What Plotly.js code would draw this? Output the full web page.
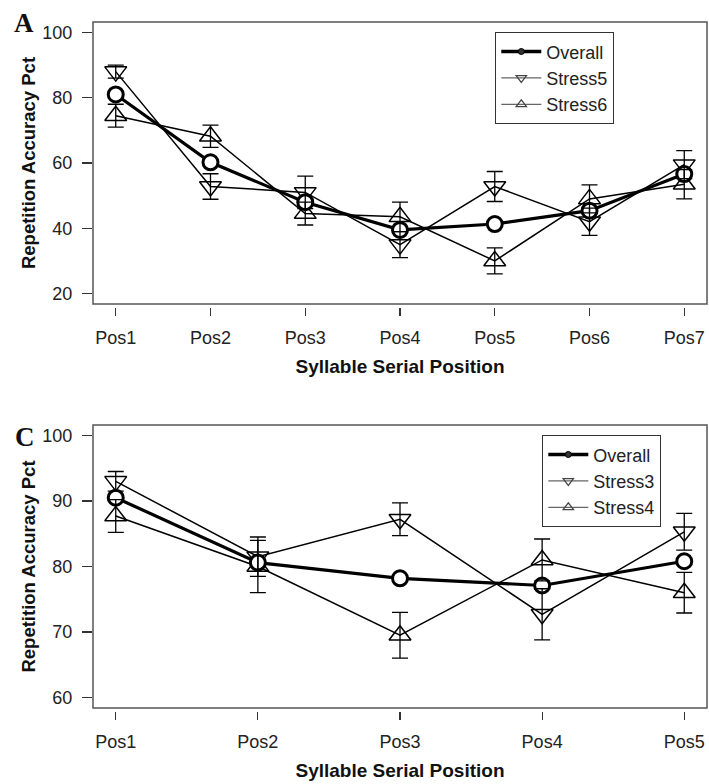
<!DOCTYPE html>
<html><head><meta charset="utf-8">
<script src="https://cdn.plot.ly/plotly-3.0.1.min.js"></script>
<style>html,body{margin:0;padding:0;background:#fff}</style>
</head><body><div id="chart" style="width:709px;height:784px"></div>
<script>
// ---- Panel A data ----
const positionsA = ['Pos1','Pos2','Pos3','Pos4','Pos5','Pos6','Pos7'];
const overallA   = [81.0, 60.2, 48.0, 39.5, 41.3, 45.4, 56.6];
const stress5    = [88.0, 52.8, 51.0, 35.0, 52.8, 42.0, 59.5];
const stress5Err = [2.0, 3.9, 5.0, 4.0, 4.6, 4.2, 4.3];
const stress6    = [74.5, 68.2, 44.5, 43.5, 30.0, 49.0, 53.5];
const stress6Err = [3.5, 3.4, 3.5, 4.5, 4.0, 4.3, 4.5];
const yTicksA    = [20, 40, 60, 80, 100];

// ---- Panel C data ----
const positionsC = ['Pos1','Pos2','Pos3','Pos4','Pos5'];
const overallC   = [90.5, 80.6, 78.2, 77.1, 80.8];
const stress3    = [93.0, 81.5, 87.2, 72.7, 85.3];
const stress3Err = [1.5, 3.0, 2.5, 3.9, 2.8];
const stress4    = [87.7, 80.0, 69.5, 81.0, 76.0];
const stress4Err = [2.5, 4.0, 3.5, 3.2, 3.1];
const yTicksC    = [60, 70, 80, 90, 100];

const FONT = 'Liberation Sans, Arial, Helvetica, sans-serif';
const M = {l: 93, r: 2, t: 22, b: 73};
const PW = 709 - M.l - M.r, PH = 784 - M.t - M.b;
const px2x = px => (px - M.l) / PW;
const px2y = py => (784 - M.b - py) / PH;

function overallTrace(x, y, xa, ya) {
  return {x: x, y: y, xaxis: xa, yaxis: ya, mode: 'lines+markers', showlegend: false,
    line: {color: '#000', width: 3.2},
    marker: {symbol: 'circle', size: 15, color: '#fff', line: {color: '#000', width: 3}},
    hoverinfo: 'skip'};
}
function stressTrace(x, y, sym, xa, ya) {
  return {x: x, y: y, xaxis: xa, yaxis: ya, mode: 'lines+markers', showlegend: false,
    line: {color: '#000', width: 1.5},
    marker: {symbol: sym, size: 19, color: 'rgba(0,0,0,0)', line: {color: '#000', width: 1.5}},
    hoverinfo: 'skip'};
}
function errTrace(x, y, err, xa, ya) {
  return {x: x, y: y, xaxis: xa, yaxis: ya, mode: 'markers', showlegend: false,
    marker: {size: 1, color: 'rgba(0,0,0,0)'},
    error_y: {type: 'data', array: err, color: '#000', thickness: 1.3, width: 8},
    hoverinfo: 'skip'};
}
function legendTrace(name, kind, lg) {
  const t = {x: [null], y: [null], name: name, mode: 'lines+markers', legend: lg, hoverinfo: 'skip'};
  if (kind === 'overall') {
    t.line = {color: '#000', width: 3.5};
    t.marker = {symbol: 'circle', size: 6, color: '#333', line: {color: '#000', width: 1}};
  } else {
    t.line = {color: '#666', width: 1.2};
    t.marker = {symbol: kind, size: 9, color: 'rgba(0,0,0,0)', line: {color: '#444', width: 1.2}};
  }
  return t;
}

const data = [
  stressTrace(positionsA, stress5, 'triangle-down', 'x', 'y'),
  stressTrace(positionsA, stress6, 'triangle-up', 'x', 'y'),
  overallTrace(positionsA, overallA, 'x', 'y'),
  errTrace(positionsA, stress5, stress5Err, 'x', 'y'),
  errTrace(positionsA, stress6, stress6Err, 'x', 'y'),
  stressTrace(positionsC, stress3, 'triangle-down', 'x2', 'y2'),
  stressTrace(positionsC, stress4, 'triangle-up', 'x2', 'y2'),
  overallTrace(positionsC, overallC, 'x2', 'y2'),
  errTrace(positionsC, stress3, stress3Err, 'x2', 'y2'),
  errTrace(positionsC, stress4, stress4Err, 'x2', 'y2'),
  legendTrace('Overall', 'overall', 'legend'),
  legendTrace('Stress5', 'triangle-down', 'legend'),
  legendTrace('Stress6', 'triangle-up', 'legend'),
  legendTrace('Overall', 'overall', 'legend2'),
  legendTrace('Stress3', 'triangle-down', 'legend2'),
  legendTrace('Stress4', 'triangle-up', 'legend2')
];

const tickFont = {family: FONT, size: 18, color: '#222'};
const titleFont = {family: FONT, size: 19, color: '#111', weight: 'bold'};

function xAxis(range, pos) {
  return {type: 'category', domain: [0, 1], anchor: 'free', position: pos, range: range,
    showline: false, showgrid: false, zeroline: false,
    ticks: 'outside', ticklen: 8, tickwidth: 1.2, tickcolor: '#333',
    tickfont: tickFont, ticklabelstandoff: 6,
    title: {text: 'Syllable Serial Position', font: titleFont, standoff: 13},
    fixedrange: true};
}
function yAxis(dom, range, ticks, xa) {
  return {domain: dom, anchor: xa, range: range, tickvals: ticks,
    showline: false, showgrid: false, zeroline: false,
    ticks: 'outside', ticklen: 10, tickwidth: 1.2, tickcolor: '#333',
    tickfont: tickFont, ticklabelstandoff: 6,
    title: {text: 'Repetition Accuracy Pct', font: {family: FONT, size: 18.5, color: '#111', weight: 'bold'}, standoff: 1},
    fixedrange: true};
}

const legendBase = {xanchor: 'left', yanchor: 'top', bgcolor: '#fff', bordercolor: '#333', borderwidth: 1.3,
  font: {family: FONT, size: 18, color: '#222'}, tracegroupgap: 0, itemwidth: 40};

const layout = {
  width: 709, height: 784, margin: M, paper_bgcolor: '#fff', plot_bgcolor: '#fff',
  showlegend: true,
  xaxis: xAxis([-0.24, 6.24], px2y(307)),
  yaxis: yAxis([px2y(304), 1], [16.8, 103.2], yTicksA, 'x'),
  xaxis2: xAxis([-0.16, 4.16], 0),
  yaxis2: yAxis([px2y(708), px2y(425)], [58.4, 101.6], yTicksC, 'x2'),
  legend: Object.assign({}, legendBase, {x: px2x(495), y: px2y(32)}),
  legend2: Object.assign({}, legendBase, {x: px2x(542), y: px2y(435)}),
  shapes: [
    {type: 'rect', xref: 'x domain', yref: 'y domain', x0: 0, x1: 1, y0: 0, y1: 1, line: {color: '#555', width: 1.5}},
    {type: 'rect', xref: 'x2 domain', yref: 'y2 domain', x0: 0, x1: 1, y0: 0, y1: 1, line: {color: '#555', width: 1.5}}
  ],
  annotations: [
    {text: 'A', xref: 'paper', yref: 'paper', x: px2x(12), y: px2y(23), xanchor: 'left', yanchor: 'middle', showarrow: false,
     font: {family: 'Liberation Serif, Times New Roman, serif', size: 27, color: '#111', weight: 'bold'}},
    {text: 'C', xref: 'paper', yref: 'paper', x: px2x(13), y: px2y(437), xanchor: 'left', yanchor: 'middle', showarrow: false,
     font: {family: 'Liberation Serif, Times New Roman, serif', size: 27, color: '#111', weight: 'bold'}}
  ]
};

Plotly.newPlot('chart', data, layout, {displayModeBar: false, staticPlot: true});
</script>
</body></html>
